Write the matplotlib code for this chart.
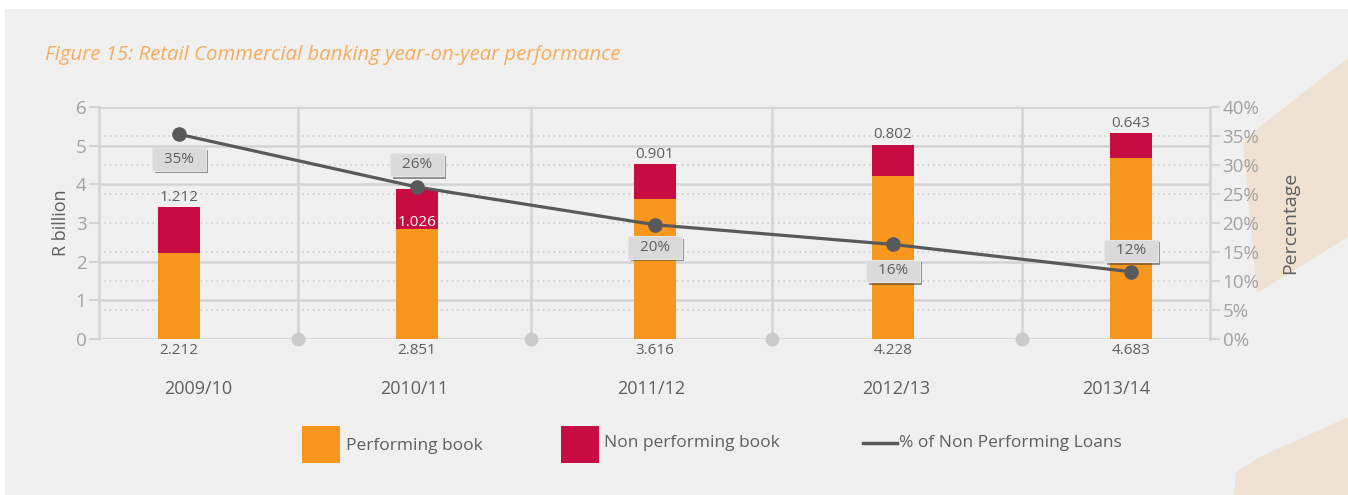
import numpy as np
import matplotlib
matplotlib.use("Agg")
import matplotlib.pyplot as plt
from matplotlib.patches import Rectangle, Polygon
from matplotlib.lines import Line2D
import matplotlib.patheffects as pe

plt.rcParams["font.family"] = ["Open Sans", "DejaVu Sans"]

BG     = "#F0F0F0"
ORANGE = "#F7971E"
RED    = "#C60C41"
LINE   = "#58595B"
GRID   = "#D4D4D4"
TXT    = "#5E5F61"
TICK   = "#A3A3A3"
BEIGE  = "#EFE2D3"

years       = ["2009/10", "2010/11", "2011/12", "2012/13", "2013/14"]
performing  = [2.212, 2.851, 3.616, 4.228, 4.683]
non_perf    = [1.212, 1.026, 0.901, 0.802, 0.643]
npl_pct     = [35.3, 26.2, 19.7, 16.3, 11.6]
npl_labels  = ["35%", "26%", "20%", "16%", "12%"]
label_inside = [False, True, False, False, False]
pct_offsets  = [-18, 16, -16.5, -19, 15]   # label offset (pt) from the point
dividers     = [0.5, 1.48, 2.49, 3.54]
XLIM = (-0.336, 4.332)

W, H = 1348, 495
fig = plt.figure(figsize=(W / 100, H / 100), dpi=100)
fig.patch.set_facecolor(BG)

# white page margins + beige decorations (behind everything)
fig.patches.append(Rectangle((0, 1 - 9 / H), 1, 9 / H, transform=fig.transFigure,
                             facecolor="white", edgecolor="none", zorder=-10))
fig.patches.append(Rectangle((0, 0), 5 / W, 1, transform=fig.transFigure,
                             facecolor="white", edgecolor="none", zorder=-10))
def px(pts):
    return [(x / W, 1 - y / H) for x, y in pts]
fig.patches.append(Polygon(px([(1348, 58), (1262, 125), (1243, 143), (1257, 293), (1348, 237)]),
                           closed=True, transform=fig.transFigure, facecolor=BEIGE,
                           edgecolor="none", zorder=-10))
fig.patches.append(Polygon(px([(1234, 495), (1236, 472), (1258, 458), (1348, 417), (1348, 495)]),
                           closed=True, transform=fig.transFigure, facecolor=BEIGE,
                           edgecolor="none", zorder=-10))

ax = fig.add_axes([99 / W, 1 - 339 / H, (1210 - 99) / W, (339 - 107) / H])
ax.set_facecolor("none")
ax2 = ax.twinx()

x = np.arange(len(years))
bw = 0.176

# grid: solid at R values, dotted at percentage ticks
for v in range(0, 7):
    if v != 3:
        ax.axhline(v, color=GRID, lw=1.8, zorder=0.5)
for p in range(5, 40, 5):
    ax.axhline(p * 6 / 40, color="#C9C9C9", lw=1.1, ls=(0, (1, 2.5)), zorder=0.5)
for d in dividers:
    ax.axvline(d, color=GRID, lw=1.8, zorder=0.5)
    ax.plot(d, 0, "o", ms=9, color="#CBCBCB", zorder=0.6, clip_on=False)

ax.bar(x, performing, bw, color=ORANGE, zorder=2)
ax.bar(x, non_perf, bw, bottom=performing, color=RED, zorder=2)

edges = [XLIM[0]] + dividers + [XLIM[1]]
for i in range(len(years)):
    top = performing[i] + non_perf[i]
    if label_inside[i]:
        ax.annotate(f"{non_perf[i]:.3f}", (x[i], top), xytext=(0, -24), textcoords="offset points",
                    ha="center", va="center", fontsize=11, color="white", zorder=3)
    else:
        ax.annotate(f"{non_perf[i]:.3f}", (x[i], top), xytext=(0, 1.5), textcoords="offset points",
                    ha="center", va="bottom", fontsize=11, color=TXT, zorder=3)
    ax.annotate(f"{performing[i]:.3f}", (x[i], 0), xycoords=("data", "axes fraction"),
                xytext=(0, -3), textcoords="offset points", ha="center", va="top",
                fontsize=11, color=TXT, annotation_clip=False)
    # year labels sit in the middle of each band between dividers
    ax.annotate(years[i], ((edges[i] + edges[i + 1]) / 2, 0), xycoords=("data", "axes fraction"),
                xytext=(0, -36), textcoords="offset points", ha="center", va="center",
                fontsize=13, color=TXT, annotation_clip=False)

ax.set_xlim(*XLIM)
ax.set_ylim(0, 6)
ax.set_yticks(range(0, 7))
ax.set_xticks([])
ax.tick_params(axis="y", direction="out", length=7, width=1.5, color=GRID,
               labelsize=13.5, labelcolor=TICK, pad=2)
ax.set_ylabel("R billion", fontsize=13, color=TXT, labelpad=4)
for s in ["top", "right", "bottom"]:
    ax.spines[s].set_visible(False)
ax.spines["left"].set_color(GRID)
ax.spines["left"].set_linewidth(1.8)

# percentage line
ax2.plot(x, npl_pct, color=LINE, lw=2.3, marker="o", ms=9.5, zorder=4)
for i in range(len(years)):
    t = ax2.annotate("  " + npl_labels[i] + "  ", (x[i], npl_pct[i]), xytext=(0, pct_offsets[i]),
                     textcoords="offset points", ha="center", va="center",
                     fontsize=11, color=TXT, zorder=5,
                     bbox=dict(boxstyle="square,pad=0.25", facecolor="#DADADA",
                               edgecolor="#E6E6E6", lw=0.8))
    t.get_bbox_patch().set_path_effects([
        pe.withSimplePatchShadow(offset=(1.8, -1.8), shadow_rgbFace="#333333", alpha=0.5)])
ax2.set_ylim(0, 40)
ax2.set_yticks(range(0, 45, 5))
ax2.set_yticklabels([f"{v}%" for v in range(0, 45, 5)])
ax2.tick_params(axis="y", direction="out", length=7, width=1.5, color=GRID,
                labelsize=13.5, labelcolor=TICK, pad=2)
ax2.set_ylabel("Percentage", fontsize=14, color=TXT, labelpad=16)
for s in ["top", "left", "bottom"]:
    ax2.spines[s].set_visible(False)
ax2.spines["right"].set_color(GRID)
ax2.spines["right"].set_linewidth(1.8)

# title
fig.text(45 / W, 1 - 55 / H, "Figure 15: Retail Commercial banking year-on-year performance",
         fontsize=14.7, style="italic", color="#F7AC5C", ha="left", va="center")

# legend drawn by hand
fig.patches.append(Rectangle((302 / W, 1 - 463 / H), 38 / W, 37 / H, transform=fig.transFigure,
                             facecolor=ORANGE, edgecolor="none"))
fig.text(346 / W, 1 - 446 / H, "Performing book", fontsize=12.5, color=TXT, va="center")
fig.patches.append(Rectangle((561 / W, 1 - 463 / H), 38 / W, 37 / H, transform=fig.transFigure,
                             facecolor=RED, edgecolor="none"))
fig.text(604 / W, 1 - 443 / H, "Non performing book", fontsize=12.5, color=TXT, va="center")
fig.lines.append(Line2D([863 / W, 897 / W], [1 - 443 / H, 1 - 443 / H], transform=fig.transFigure,
                        color=LINE, lw=2.5))
fig.text(899 / W, 1 - 443 / H, "% of Non Performing Loans", fontsize=12.5, color=TXT, va="center")

fig.savefig("out.png", dpi=100, facecolor=BG)
